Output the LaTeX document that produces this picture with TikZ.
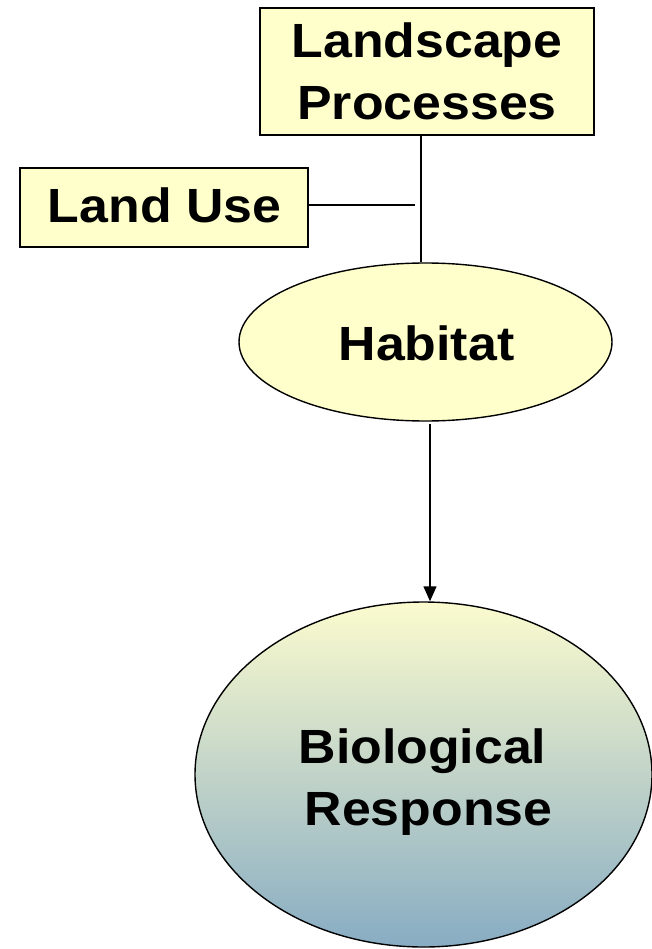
\documentclass[tikz,border=0pt]{standalone}
\usepackage{fontspec}
\newfontfamily\lbl{Liberation Sans}[FakeStretch=1.08]
\usetikzlibrary{shapes.geometric,arrows.meta,calc}
\definecolor{boxfill}{HTML}{FFFFCC}
\definecolor{biotop}{HTML}{FBFBCE}
\definecolor{biobot}{HTML}{88ACC3}
\begin{document}
\begin{tikzpicture}[x=1pt,y=-1pt,
  lbltext/.style={font=\lbl\bfseries\fontsize{48}{62}\selectfont, align=center, text=black},
  boxnode/.style={lbltext, draw=black, line width=1.4pt, fill=boxfill, inner sep=0pt},
  ellnode/.style={lbltext, ellipse, draw=black, line width=1.4pt, inner sep=0pt},
  conn/.style={draw=black, line width=1.4pt}]
\useasboundingbox (0,0) rectangle (652,949);
\node[boxnode, minimum width=334pt, minimum height=127pt] (lp) at (427,71.5) {};
\node[lbltext, anchor=base] (lpt1) at (427,58) {Landscape};
\node[lbltext, anchor=base] (lpt2) at (427,120) {Processes};
\node[boxnode, minimum width=288pt, minimum height=79pt] (lu) at (164,207.5) {};
\node[lbltext, anchor=base] (lut) at (164.5,222.5) {Land Use};
\node[ellnode, fill=boxfill, minimum width=373pt, minimum height=158pt] (hab) at (425.5,342) {};
\node[lbltext, anchor=base] (habt) at (426.5,360) {Habitat};
\node[ellnode, top color=biotop, bottom color=biobot, minimum width=457pt, minimum height=345pt] (bio) at (423.5,774.5) {};
\node[lbltext, anchor=base] (biot1) at (422.5,763) {Biological};
\node[lbltext, anchor=base] (biot2) at (428.5,825) {Response};
\coordinate (jend) at (415,205);
\draw[conn] ($(lp.south)+(-6,0)$) -- ($(hab.north)+(-4.5,0)$);
\draw[conn] (lu.east |- jend) -- (jend);
\draw[conn, -{Triangle[length=15pt,width=13pt]}] ($(hab.south)+(4.5,2)$) -- ($(bio.north)+(6.5,0)$);
\end{tikzpicture}
\end{document}
